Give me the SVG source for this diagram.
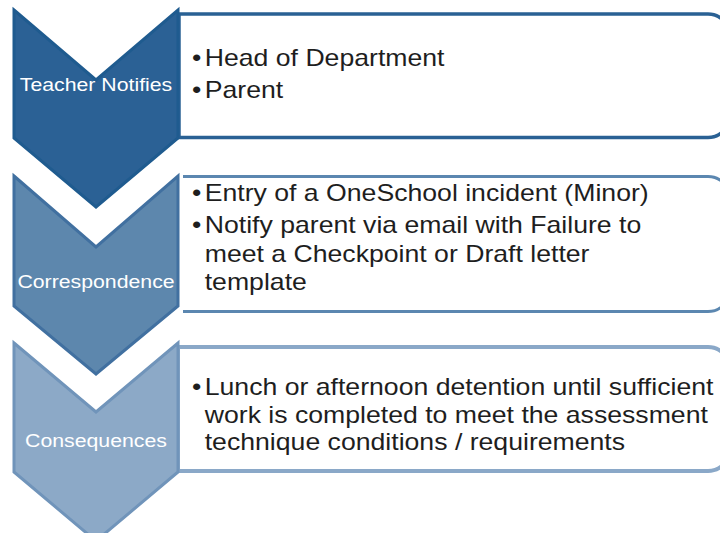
<svg xmlns="http://www.w3.org/2000/svg" width="720" height="533" viewBox="0 0 720 533">
<style>
.lbl{font-family:"Liberation Sans",Arial,sans-serif;font-size:18.5px;fill:#ffffff;text-anchor:middle}
.txt{font-family:"Liberation Sans",Arial,sans-serif;font-size:23px;fill:#1e1e1e}
.box{fill:#ffffff}
</style>
<rect width="720" height="533" fill="#ffffff"/>
<g id="connectors"/>
<g id="step1">
  <path class="box" d="M179,14 H708 A22,22 0 0 1 730,36 V115 A22,22 0 0 1 708,137.5 H179 Z" stroke="#2A6194" stroke-width="3.5"/>
  <polygon points="14,10 96,80 178,10 178,138 96,207 14,138" fill="#2B6195" stroke="#1F5B8F" stroke-width="3" stroke-linejoin="miter"/>
  <text class="lbl" transform="translate(96,91) scale(1.15,1)" x="0" y="0">Teacher Notifies</text>
  <g transform="translate(192,0) scale(1.158,1)">
    <text class="txt" x="0" y="66">•</text>
    <text class="txt" x="11" y="66">Head of Department</text>
    <text class="txt" x="0" y="98">•</text>
    <text class="txt" x="11" y="98">Parent</text>
  </g>
</g>
<g id="step2">
  <path class="box" d="M183,176.5 H708 A22,22 0 0 1 730,198.5 V289.5 A22,22 0 0 1 708,311.5 H183" stroke="#5B87B0" stroke-width="3"/>
  <polygon points="14,176 96,247 178,176 178,306 96,374 14,306" fill="#5D87AD" stroke="#4170A0" stroke-width="3"/>
  <text class="lbl" transform="translate(96,288) scale(1.15,1)" x="0" y="0">Correspondence</text>
  <g transform="translate(192,0) scale(1.158,1)">
    <text class="txt" x="0" y="201">•</text>
    <text class="txt" x="11" y="201">Entry of a OneSchool incident (Minor)</text>
    <text class="txt" x="0" y="233">•</text>
    <text class="txt" x="11" y="233">Notify parent via email with Failure to</text>
    <text class="txt" x="11" y="262">meet a Checkpoint or Draft letter</text>
    <text class="txt" x="11" y="290">template</text>
  </g>
</g>
<g id="step3">
  <path class="box" d="M178,347 H708 A22,22 0 0 1 730,369 V449 A22,22 0 0 1 708,471 H178 Z" stroke="#8AA8C8" stroke-width="4"/>
  <polygon points="14,343 96,412 178,343 178,472 96,541 14,472" fill="#8CA9C7" stroke="#7094BA" stroke-width="3"/>
  <text class="lbl" transform="translate(96,447) scale(1.15,1)" x="0" y="0">Consequences</text>
  <g transform="translate(192,0) scale(1.158,1)">
    <text class="txt" x="0" y="395">•</text>
    <text class="txt" x="11" y="395">Lunch or afternoon detention until sufficient</text>
    <text class="txt" x="11" y="423">work is completed to meet the assessment</text>
    <text class="txt" x="11" y="450">technique conditions / requirements</text>
  </g>
</g>
</svg>
